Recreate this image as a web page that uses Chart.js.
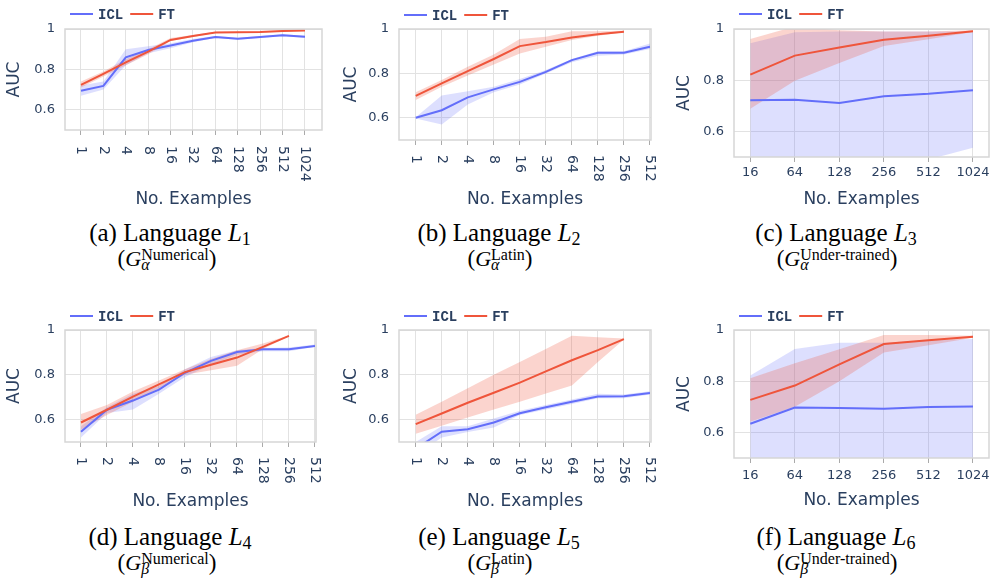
<!DOCTYPE html>
<html><head><meta charset="utf-8">
<script src="https://cdn.jsdelivr.net/npm/chart.js@4.4.0/dist/chart.umd.min.js"></script>
<style>
body{margin:0;background:#fff;width:995px;height:578px;overflow:hidden;position:relative;}
canvas{position:absolute;}
.cap{position:absolute;font-family:"Liberation Serif","Times New Roman",serif;color:#000;white-space:nowrap;transform:translateX(-50%);line-height:24px;font-size:25px;}
.cap sub{font-size:18px;vertical-align:-4px;line-height:0;}
.c2{font-size:23px;line-height:24px;}
.c2 i.g{font-size:22px;}
.ss{display:inline-block;vertical-align:-4px;line-height:10px;font-size:16px;text-align:left;}
.ss span{display:block;}
</style></head><body>
<canvas id="ca" width="330" height="215" style="left:0;top:0"></canvas>
<canvas id="cb" width="330" height="215" style="left:330px;top:0"></canvas>
<canvas id="cc" width="335" height="215" style="left:660px;top:0"></canvas>
<canvas id="cd" width="330" height="220" style="left:0;top:300px"></canvas>
<canvas id="ce" width="330" height="220" style="left:330px;top:300px"></canvas>
<canvas id="cf" width="335" height="220" style="left:660px;top:300px"></canvas>

<div class="cap" style="left:170px;top:221px">(a) Language <i>L</i><sub>1</sub></div>
<div class="cap c2" style="left:167px;top:247px">(<i class="g">G</i><span class="ss"><span>Numerical</span><span><i>α</i></span></span>)</div>
<div class="cap" style="left:499px;top:221px">(b) Language <i>L</i><sub>2</sub></div>
<div class="cap c2" style="left:500px;top:247px">(<i class="g">G</i><span class="ss"><span>Latin</span><span><i>α</i></span></span>)</div>
<div class="cap" style="left:836px;top:221px">(c) Language <i>L</i><sub>3</sub></div>
<div class="cap c2" style="left:837px;top:247px">(<i class="g">G</i><span class="ss"><span>Under-trained</span><span><i>α</i></span></span>)</div>
<div class="cap" style="left:170px;top:525px">(d) Language <i>L</i><sub>4</sub></div>
<div class="cap c2" style="left:167px;top:551px">(<i class="g">G</i><span class="ss"><span>Numerical</span><span><i>β</i></span></span>)</div>
<div class="cap" style="left:499px;top:525px">(e) Language <i>L</i><sub>5</sub></div>
<div class="cap c2" style="left:500px;top:551px">(<i class="g">G</i><span class="ss"><span>Latin</span><span><i>β</i></span></span>)</div>
<div class="cap" style="left:836px;top:525px">(f) Language <i>L</i><sub>6</sub></div>
<div class="cap c2" style="left:837px;top:551px">(<i class="g">G</i><span class="ss"><span>Under-trained</span><span><i>β</i></span></span>)</div>

<script>
// ---- tick labels ----
const X_FULL = ['1','2','4','8','16','32','64','128','256','512','1024'];
const X_512 = ['1','2','4','8','16','32','64','128','256','512'];
const X_UT = ['16','64','128','256','512','1024'];
const Y_TICKS = [0.6, 0.8, 1];
const SERIES = ['ICL', 'FT'];

// ---- (a) ----
const A_ICL    = [0.694,0.718,0.860,0.896,0.918,0.942,0.960,0.952,0.960,0.969,0.962];
const A_ICL_LO = [0.670,0.700,0.820,0.880,0.905,0.935,0.955,0.947,0.955,0.964,0.957];
const A_ICL_HI = [0.720,0.740,0.900,0.915,0.930,0.950,0.965,0.957,0.965,0.974,0.967];
const A_FT     = [0.723,0.778,0.835,0.888,0.946,0.965,0.983,0.984,0.985,0.990,0.992];
const A_FT_LO  = [0.710,0.765,0.820,0.875,0.940,0.960,0.980,0.981,0.982,0.987,0.990];
const A_FT_HI  = [0.740,0.790,0.850,0.900,0.955,0.970,0.986,0.987,0.988,0.993,0.995];
// ---- (b) ----
const B_ICL    = [0.600,0.634,0.692,0.728,0.762,0.807,0.860,0.893,0.893,0.920];
const B_ICL_LO = [0.597,0.570,0.660,0.715,0.750,0.800,0.850,0.880,0.885,0.910];
const B_ICL_HI = [0.603,0.700,0.720,0.740,0.775,0.815,0.865,0.900,0.900,0.935];
const B_FT     = [0.699,0.755,0.810,0.865,0.923,0.941,0.962,0.976,0.988];
const B_FT_LO  = [0.680,0.740,0.790,0.840,0.890,0.920,0.950,0.970,0.985];
const B_FT_HI  = [0.715,0.770,0.830,0.885,0.955,0.965,0.990,0.990,0.992];
// ---- (c) ----
const C_ICL    = [0.722,0.724,0.711,0.737,0.747,0.761];
const C_ICL_LO = [0.400,0.420,0.430,0.450,0.490,0.536];
const C_ICL_HI = [0.944,0.987,0.990,0.990,0.990,0.990];
const C_FT     = [0.822,0.896,0.928,0.958,0.974,0.991];
const C_FT_LO  = [0.688,0.798,0.867,0.934,0.960,0.988];
const C_FT_HI  = [0.961,1.010,0.995,0.990,0.990,0.995];
// ---- (d) ----
const D_ICL    = [0.546,0.644,0.685,0.734,0.809,0.862,0.902,0.914,0.914,0.929];
const D_ICL_LO = [0.520,0.630,0.645,0.715,0.790,0.845,0.890,0.905,0.905,0.925];
const D_ICL_HI = [0.570,0.655,0.715,0.750,0.825,0.880,0.910,0.920,0.922,0.935];
const D_FT     = [0.587,0.644,0.703,0.757,0.812,0.845,0.877,0.925,0.974];
const D_FT_LO  = [0.555,0.620,0.680,0.740,0.800,0.820,0.840,0.915,0.972];
const D_FT_HI  = [0.625,0.665,0.725,0.775,0.825,0.870,0.910,0.940,0.976];
// ---- (e) ----
const E_ICL    = [0.470,0.546,0.557,0.587,0.628,0.655,0.680,0.703,0.704,0.719];
const E_ICL_LO = [0.440,0.520,0.545,0.565,0.620,0.645,0.670,0.695,0.695,0.712];
const E_ICL_HI = [0.500,0.570,0.570,0.605,0.640,0.665,0.690,0.715,0.712,0.727];
const E_FT     = [0.580,0.627,0.675,0.720,0.765,0.815,0.865,0.910,0.959];
const E_FT_LO  = [0.537,0.573,0.609,0.645,0.680,0.716,0.752,0.857,0.958];
const E_FT_HI  = [0.622,0.680,0.740,0.800,0.857,0.915,0.974,0.968,0.962];
// ---- (f) ----
const F_ICL    = [0.634,0.697,0.695,0.692,0.699,0.701];
const F_ICL_LO = [0.280,0.310,0.320,0.300,0.330,0.350];
const F_ICL_HI = [0.822,0.926,0.950,0.950,0.960,0.965];
const F_FT     = [0.727,0.783,0.866,0.945,0.960,0.974];
const F_FT_LO  = [0.642,0.700,0.800,0.912,0.940,0.970];
const F_FT_HI  = [0.812,0.870,0.925,0.980,0.980,0.978];

const BLUE = '#636efa', RED = '#ef553b';
const BLUE_F = 'rgba(99,110,250,0.22)', RED_F = 'rgba(239,85,59,0.25)';
const TXT = '#2a3f5f', GRID = '#e2e2e2', FRAME = '#d6d6d6';
const FONT = '"DejaVu Sans", sans-serif';

const pts = arr => arr.map((v, i) => ({x: i, y: v}));

function makeChart(cfg) {
  const datasets = [
    {data: pts(cfg.iclLo), borderWidth: 0, pointRadius: 0, fill: false, order: 4},
    {data: pts(cfg.iclHi), borderWidth: 0, pointRadius: 0, fill: '-1', backgroundColor: BLUE_F, order: 4},
    {data: pts(cfg.ftLo), borderWidth: 0, pointRadius: 0, fill: false, order: 3},
    {data: pts(cfg.ftHi), borderWidth: 0, pointRadius: 0, fill: '-1', backgroundColor: RED_F, order: 3},
    {label: SERIES[0], data: pts(cfg.icl), borderColor: BLUE, borderWidth: 2, pointRadius: 0, fill: false, order: 2},
    {label: SERIES[1], data: pts(cfg.ft), borderColor: RED, borderWidth: 2, pointRadius: 0, fill: false, order: 1}
  ];
  const deco = {
    id: 'deco',
    afterDraw(chart) {
      const ctx = chart.ctx, ca = chart.chartArea, xs = chart.scales.x;
      ctx.save();
      ctx.strokeStyle = FRAME; ctx.lineWidth = 1.5;
      ctx.strokeRect(ca.left, ca.top, ca.right - ca.left, ca.bottom - ca.top);
      ctx.fillStyle = TXT;
      ctx.font = (cfg.rotated ? '14px ' : '13px ') + FONT;
      cfg.labels.forEach((lab, i) => {
        const px = xs.getPixelForValue(i);
        if (cfg.rotated) {
          ctx.save();
          ctx.translate(px, ca.bottom + cfg.tickGap);
          ctx.rotate(Math.PI / 2);
          ctx.textAlign = 'left'; ctx.textBaseline = 'middle';
          ctx.fillText(lab, 0, 0);
          ctx.restore();
        } else {
          ctx.textAlign = 'center'; ctx.textBaseline = 'middle';
          ctx.fillText(lab, px, ca.bottom + cfg.tickGap);
        }
      });
      ctx.font = '17px ' + FONT;
      ctx.textAlign = 'center'; ctx.textBaseline = 'middle';
      ctx.fillText('No. Examples', (ca.left + ca.right) / 2, cfg.titleY);
      ctx.save();
      ctx.translate(cfg.yTitleX, (ca.top + ca.bottom) / 2);
      ctx.rotate(-Math.PI / 2);
      ctx.fillText('AUC', 0, 0);
      ctx.restore();
      // legend
      let lx = ca.left + 5;
      const ly = cfg.legendY;
      ctx.font = 'bold 14px "Liberation Mono", monospace';
      ctx.textAlign = 'left';
      [[SERIES[0], BLUE], [SERIES[1], RED]].forEach(([name, col]) => {
        ctx.strokeStyle = col; ctx.lineWidth = 2;
        ctx.beginPath(); ctx.moveTo(lx, ly); ctx.lineTo(lx + 23, ly); ctx.stroke();
        ctx.fillStyle = TXT;
        ctx.fillText(name, lx + 28, ly + 1);
        lx += 28 + ctx.measureText(name).width + 7;
      });
      ctx.restore();
    }
  };
  const el = document.getElementById(cfg.id);
  new Chart(el, {
    type: 'line',
    data: {datasets},
    options: {
      responsive: false, animation: false, devicePixelRatio: 1,
      layout: {padding: {left: 0, top: cfg.plotTop, right: el.width - cfg.plotRight, bottom: 0}},
      plugins: {legend: {display: false}, tooltip: {enabled: false}},
      elements: {line: {tension: 0}},
      scales: {
        x: {
          type: 'linear', min: cfg.xmin, max: cfg.xmax,
          afterBuildTicks: s => { s.ticks = cfg.labels.map((_, i) => ({value: i})); },
          afterFit: s => { s.height = el.height - cfg.plotBottom; },
          grid: {color: GRID, lineWidth: 1, drawTicks: true, tickLength: 5, tickColor: '#aaaaaa'},
          border: {display: false},
          ticks: {display: false}
        },
        y: {
          min: 0.5, max: 1,
          afterBuildTicks: s => { s.ticks = Y_TICKS.map(v => ({value: v})); },
          afterFit: s => { s.width = cfg.plotLeft; },
          grid: {color: GRID, lineWidth: 1, drawTicks: false},
          border: {display: false},
          ticks: {padding: 10, color: TXT, font: {family: FONT, size: 13},
                  callback: v => (v === 1 ? '1' : v.toFixed(1))}
        }
      }
    },
    plugins: [deco]
  });
}

makeChart({id:'ca', labels:X_FULL, icl:A_ICL, iclLo:A_ICL_LO, iclHi:A_ICL_HI, ft:A_FT, ftLo:A_FT_LO, ftHi:A_FT_HI,
  plotLeft:65, plotRight:322, plotTop:29, plotBottom:130, xmin:-0.714, xmax:10.76, rotated:true, tickGap:16, titleY:200, yTitleX:15, legendY:14});
makeChart({id:'cb', labels:X_512, icl:B_ICL, iclLo:B_ICL_LO, iclHi:B_ICL_HI, ft:B_FT, ftLo:B_FT_LO, ftHi:B_FT_HI,
  plotLeft:69, plotRight:321, plotTop:29, plotBottom:140, xmin:-0.642, xmax:9.04, rotated:true, tickGap:15, titleY:200, yTitleX:22, legendY:15});
makeChart({id:'cc', labels:X_UT, icl:C_ICL, iclLo:C_ICL_LO, iclHi:C_ICL_HI, ft:C_FT, ftLo:C_FT_LO, ftHi:C_FT_HI,
  plotLeft:74, plotRight:329, plotTop:29, plotBottom:157, xmin:-0.366, xmax:5.36, rotated:false, tickGap:16, titleY:200, yTitleX:25, legendY:14});
makeChart({id:'cd', labels:X_512, icl:D_ICL, iclLo:D_ICL_LO, iclHi:D_ICL_HI, ft:D_FT, ftLo:D_FT_LO, ftHi:D_FT_HI,
  plotLeft:65, plotRight:316, plotTop:30, plotBottom:142, xmin:-0.615, xmax:9.04, rotated:true, tickGap:15, titleY:202, yTitleX:15, legendY:16});
makeChart({id:'ce', labels:X_512, icl:E_ICL, iclLo:E_ICL_LO, iclHi:E_ICL_HI, ft:E_FT, ftLo:E_FT_LO, ftHi:E_FT_HI,
  plotLeft:69, plotRight:321, plotTop:30, plotBottom:142, xmin:-0.642, xmax:9.04, rotated:true, tickGap:15, titleY:202, yTitleX:22, legendY:16});
makeChart({id:'cf', labels:X_UT, icl:F_ICL, iclLo:F_ICL_LO, iclHi:F_ICL_HI, ft:F_FT, ftLo:F_FT_LO, ftHi:F_FT_HI,
  plotLeft:74, plotRight:329, plotTop:30, plotBottom:158, xmin:-0.366, xmax:5.36, rotated:false, tickGap:18, titleY:201, yTitleX:25, legendY:16});
</script>
</body></html>
